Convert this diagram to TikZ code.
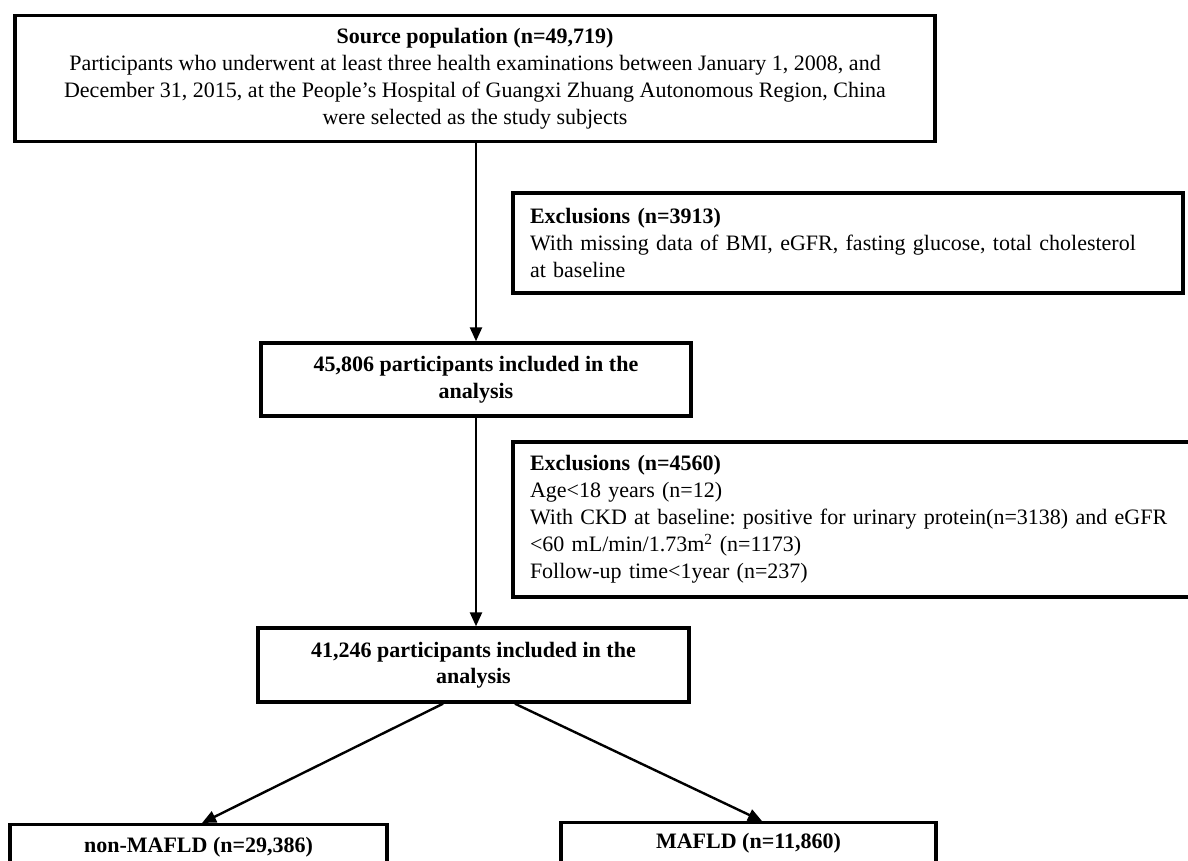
\documentclass[tikz,border=0pt]{standalone}
\usepackage{fontspec}
\setmainfont{Liberation Serif}
\usetikzlibrary{arrows.meta,calc}
\frenchspacing
\begin{document}
\begin{tikzpicture}[x=1pt,y=-1pt,
  box/.style={draw=black,line width=3.4pt,fill=white,inner sep=0pt,
    font=\fontsize{22}{26.5}\selectfont},
  exbox/.style={box,align=left,inner xsep=17pt,font=\fontsize{22}{27}\selectfont},
  arr/.style={line width=2.4pt,-{Triangle[length=14pt,width=12pt]}}]
\useasboundingbox (0,0) rectangle (1188,861);
\clip (0,0) rectangle (1188,861);
\node[box,minimum width=920pt,minimum height=126pt,align=center,
  font=\fontsize{22}{27}\selectfont] (src) at (475,78.5)
  {\textbf{Source population (n=49,719)}\\
   Participants who underwent at least three health examinations between January 1, 2008, and\\
   December 31, 2015, at the People’s Hospital of Guangxi Zhuang Autonomous Region, China\\
   were selected as the study subjects};
\node[exbox,text width=636pt,minimum height=100pt] (ex1) at (848,243)
  {\textbf{Exclusions (n=3913)}\\
   With missing data of BMI, eGFR, fasting glucose, total cholesterol\\
   at baseline};
\node[box,minimum width=430pt,minimum height=73pt,align=center] (b2) at (476,379.5)
  {\textbf{45,806 participants included in the}\\ \textbf{analysis}};
\node[exbox,text width=660pt,minimum height=155pt] (ex2) at (860,519.5)
  {\textbf{Exclusions (n=4560)}\\
   Age<18 years (n=12)\\
   With CKD at baseline: positive for urinary protein(n=3138) and eGFR\\
   <60 mL/min/1.73m\textsuperscript{2} (n=1173)\\
   Follow-up time<1year (n=237)};
\node[box,minimum width=431pt,minimum height=74pt,align=center] (b3) at (473.5,665)
  {\textbf{41,246 participants included in the}\\ \textbf{analysis}};
\node[box,anchor=north,minimum width=377pt,inner ysep=13pt,minimum height=60pt,text depth=30pt] (nm) at (198.5,823)
  {\textbf{non-MAFLD (n=29,386)}};
\node[box,anchor=north,minimum width=375pt,inner ysep=11pt,minimum height=60pt,text depth=30pt] (m) at (748.5,821)
  {\textbf{MAFLD (n=11,860)}};
\draw[arr] (b2.north |- src.south) -- (b2.north);
\draw[arr] (b2.south) -- (b2.south |- b3.north);
\draw[arr] ([xshift=-30.5pt]b3.south) -- ([xshift=3.5pt]nm.north);
\draw[arr] ([xshift=41.5pt]b3.south) -- ([xshift=13.5pt]m.north);
\end{tikzpicture}
\end{document}
